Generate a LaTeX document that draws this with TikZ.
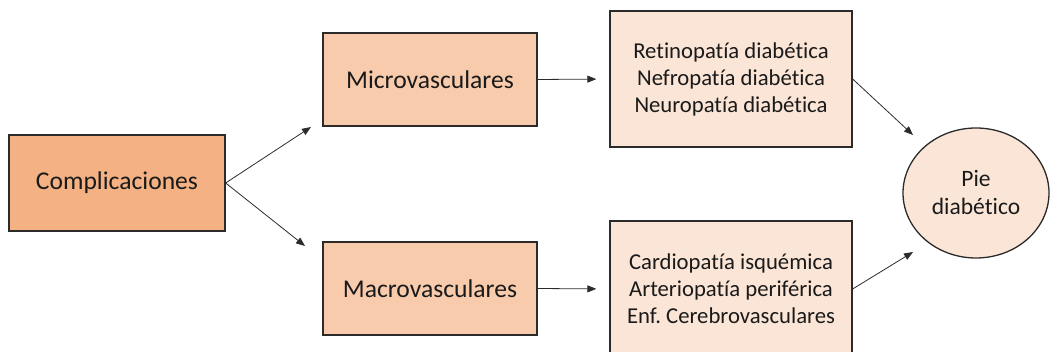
\documentclass[tikz,border=0pt]{standalone}
\usepackage{fontspec}
\setmainfont{Carlito}[Ligatures={NoCommon}]
\frenchspacing
\usetikzlibrary{arrows.meta,shapes.geometric}
\definecolor{darkfill}{HTML}{F4B183}
\definecolor{midfill}{HTML}{F8CBAD}
\definecolor{lightfill}{HTML}{FBE5D6}
\definecolor{edgecol}{HTML}{2B2B2B}
\definecolor{txtcol}{HTML}{1A1A1A}
\tikzset{
  box/.style={draw=edgecol, line width=1.3pt, rectangle, inner sep=0pt, text=txtcol, align=center},
  bigtext/.style={font=\fontsize{25.6}{30}\selectfont},
  smalltext/.style={font=\fontsize{22.7}{27}\selectfont},
  pietext/.style={font=\fontsize{23.5}{28}\selectfont},
  conn/.style={draw=edgecol, line width=0.8pt, -{Triangle[length=9pt,width=7pt]}}
}
\begin{document}
\begin{tikzpicture}[x=1pt,y=-1pt]
\useasboundingbox (0,0) rectangle (1050,352);
\begin{scope}
\clip (0,0) rectangle (1050,352);
\node[box,bigtext,fill=darkfill,minimum width=216pt,minimum height=96pt] (comp) at (117,183) {Complicaciones};
\node[box,bigtext,fill=midfill,minimum width=214pt,minimum height=93pt] (micro) at (430,79.5) {Microvasculares};
\node[box,bigtext,fill=midfill,minimum width=214pt,minimum height=93pt] (macro) at (430,288.5) {Macrovasculares};
\node[box,smalltext,fill=lightfill,minimum width=242pt,minimum height=136pt] (retino) at (731,79) {Retinopatía diabética\\Nefropatía diabética\\Neuropatía diabética};
\node[box,smalltext,fill=lightfill,minimum width=242pt,minimum height=136pt] (cardio) at (731,289) {Cardiopatía isquémica\\Arteriopatía periférica\\Enf. Cerebrovasculares};
\node[box,ellipse,pietext,fill=lightfill,minimum width=146pt,minimum height=130pt] (pie) at (976,193) {Pie\\diabético};
\coordinate (t1) at (311,127);
\coordinate (t2) at (305,246);
\coordinate (t3) at (913,135);
\coordinate (t4) at (913,252);
\draw[conn] (comp.east) -- (t1);
\draw[conn] (comp.east) -- (t2);
\draw[conn,shorten >=13pt] (micro.east) -- (retino.west);
\draw[conn,shorten >=13pt] (macro.east) -- (cardio.west);
\draw[conn] (retino.east) -- (t3);
\draw[conn] (cardio.east) -- (t4);
\end{scope}
\end{tikzpicture}
\end{document}
